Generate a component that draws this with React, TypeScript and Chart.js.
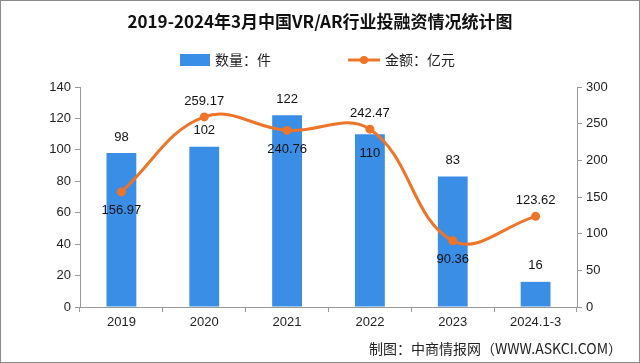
import React, { useEffect, useRef } from "react";
import { Chart, registerables } from "chart.js";

Chart.register(...registerables);

const categories = ["2019", "2020", "2021", "2022", "2023", "2024.1-3"];
const countValues = [98, 102, 122, 110, 83, 16];
const amountValues = [156.97, 259.17, 240.76, 242.47, 90.36, 123.62];
const countLabelPlacement = ["above", "above", "above", "inside", "above", "above"];
const amountLabelPlacement = ["below", "above", "below", "above", "below", "above"];
const countLabels = ["98", "102", "122", "110", "83", "16"];
const amountLabels = ["156.97", "259.17", "240.76", "242.47", "90.36", "123.62"];

const TITLE = "2019-2024年3月中国VR/AR行业投融资情况统计图";
const LEGEND_BAR = "数量：件";
const LEGEND_LINE = "金额：亿元";
const SOURCE = "制图：中商情报网（WWW.ASKCI.COM）";

const BAR_COLOR = "#3a8ee6";
const LINE_COLOR = "#ee7428";
const CJK = '"Noto Sans CJK SC", "Noto Sans", sans-serif';
const LATIN = '"Liberation Sans", Arial, sans-serif';

const decorPlugin = {
  id: "decor",
  afterDraw(chart: any) {
    const ctx = chart.ctx;
    ctx.save();
    // title
    ctx.fillStyle = "#111";
    ctx.font = `bold 17px ${CJK}`;
    ctx.textAlign = "center";
    ctx.textBaseline = "middle";
    ctx.fillText(TITLE, 320, 22);
    // legend
    ctx.fillStyle = BAR_COLOR;
    ctx.fillRect(180, 54, 30, 12);
    ctx.fillStyle = "#222";
    ctx.font = `14px ${CJK}`;
    ctx.textAlign = "left";
    ctx.fillText(LEGEND_BAR, 215, 60);
    ctx.strokeStyle = LINE_COLOR;
    ctx.lineWidth = 3;
    ctx.beginPath();
    ctx.moveTo(348, 60);
    ctx.lineTo(380, 60);
    ctx.stroke();
    ctx.fillStyle = LINE_COLOR;
    ctx.beginPath();
    ctx.arc(364, 60, 4, 0, Math.PI * 2);
    ctx.fill();
    ctx.fillStyle = "#222";
    ctx.fillText(LEGEND_LINE, 385, 60);
    // source
    ctx.font = `14px ${CJK}`;
    ctx.textAlign = "right";
    ctx.fillStyle = "#222";
    ctx.fillText(SOURCE, 622, 349);
    // data labels
    ctx.font = `13px ${LATIN}`;
    ctx.textAlign = "center";
    ctx.fillStyle = "#111";
    const barMeta = chart.getDatasetMeta(0);
    barMeta.data.forEach((el: any, i: number) => {
      const y = countLabelPlacement[i] === "inside" ? el.y + 19 : el.y - 16;
      ctx.fillText(countLabels[i], el.x, y);
    });
    const lineMeta = chart.getDatasetMeta(1);
    lineMeta.data.forEach((el: any, i: number) => {
      const y = amountLabelPlacement[i] === "below" ? el.y + 19 : el.y - 16;
      ctx.fillText(amountLabels[i], el.x, y);
    });
    // frame
    ctx.strokeStyle = "#8a8a8a";
    ctx.lineWidth = 1;
    ctx.strokeRect(0.5, 0.5, 639, 362);
    ctx.restore();
  },
};

export default function App() {
  const ref = useRef<HTMLCanvasElement>(null);
  useEffect(() => {
    document.body.style.margin = "0";
    const chart = new Chart(ref.current as HTMLCanvasElement, {
      type: "bar",
      data: {
        labels: categories,
        datasets: [
          {
            type: "bar",
            label: LEGEND_BAR,
            data: countValues,
            backgroundColor: BAR_COLOR,
            barPercentage: 0.36,
            categoryPercentage: 1,
            yAxisID: "y",
            order: 1,
          },
          {
            type: "line",
            label: LEGEND_LINE,
            data: amountValues,
            borderColor: LINE_COLOR,
            backgroundColor: LINE_COLOR,
            borderWidth: 3,
            pointRadius: 4.5,
            pointBackgroundColor: LINE_COLOR,
            pointBorderWidth: 0,
            tension: 0.4,
            yAxisID: "y1",
            order: 0,
          } as any,
        ],
      },
      options: {
        animation: false,
        responsive: true,
        maintainAspectRatio: false,
        layout: { padding: { top: 87, left: 0, right: 0, bottom: 0 } },
        plugins: {
          legend: { display: false },
          title: { display: false },
          tooltip: { enabled: false },
        },
        scales: {
          x: {
            grid: { display: true, drawOnChartArea: false, drawTicks: true, tickLength: 5, color: "#999", offset: true },
            border: { display: true, color: "#999" },
            ticks: { color: "#222", font: { size: 13, family: LATIN }, padding: 3, maxRotation: 0 },
            afterFit: (s: any) => { s.height = 56; },
          },
          y: {
            position: "left",
            min: 0,
            max: 140,
            ticks: { stepSize: 20, color: "#222", font: { size: 13, family: LATIN }, padding: 4 },
            grid: { display: true, drawOnChartArea: false, drawTicks: true, tickLength: 5, color: "#999" },
            border: { display: true, color: "#999" },
            afterFit: (s: any) => { s.width = 80; },
          },
          y1: {
            position: "right",
            min: 0,
            max: 300,
            ticks: { stepSize: 50, color: "#222", font: { size: 13, family: LATIN }, padding: 4 },
            grid: { display: true, drawOnChartArea: false, drawTicks: true, tickLength: 5, color: "#999" },
            border: { display: true, color: "#999" },
            afterFit: (s: any) => { s.width = 63; },
          },
        },
      },
      plugins: [decorPlugin],
    });
    return () => chart.destroy();
  }, []);
  return (
    <div style={{ position: "fixed", left: 0, top: 0, width: 640, height: 363, background: "#fff" }}>
      <canvas ref={ref} />
    </div>
  );
}
